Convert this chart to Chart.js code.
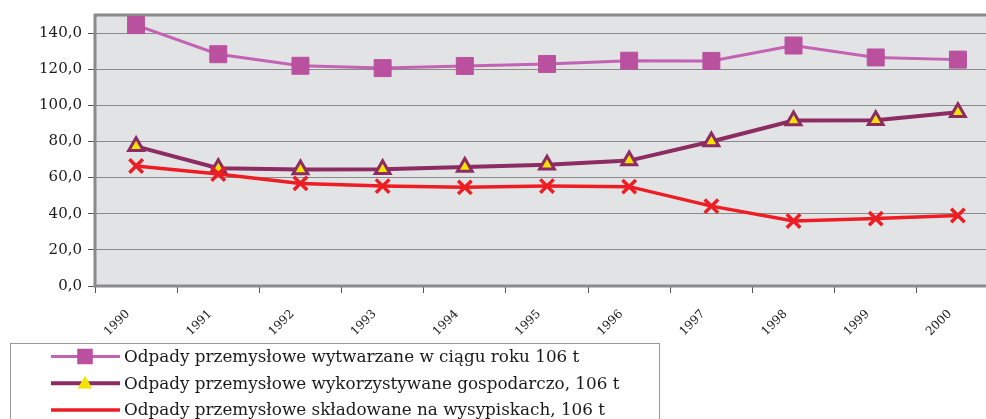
<!DOCTYPE html>
<html>
<head>
<meta charset="utf-8">
<script src="https://cdn.jsdelivr.net/npm/chart.js@4.4.1/dist/chart.umd.min.js"></script>
<style>
html, body { margin: 0; padding: 0; overflow: hidden; background: #fff; }
#wykres { display: block; width: 1000px; height: 419px; }
</style>
</head>
<body>
<canvas id="wykres" width="1000" height="419"></canvas>
<script>
// lata i wartosci
var lata = ['1990', '1991', '1992', '1993', '1994', '1995', '1996', '1997', '1998', '1999', '2000'];
var wytwarzane = [144.4, 128.3, 121.9, 120.6, 121.8, 122.9, 124.7, 124.6, 133.1, 126.5, 125.3];
var wykorzystywane = [77.3, 65.2, 64.5, 64.6, 65.9, 67.1, 69.4, 80.0, 91.6, 91.8, 96.2];
var skladowane = [66.4, 62.0, 56.8, 55.3, 54.6, 55.3, 55.0, 44.2, 36.0, 37.3, 39.0];
var nazwy = [
    'Odpady przemysłowe wytwarzane w ciągu roku 106 t',
    'Odpady przemysłowe wykorzystywane gospodarczo, 106 t',
    'Odpady przemysłowe składowane na wysypiskach, 106 t'
];

var szary = '#8a8a8a';

// tlo i ramka obszaru wykresu
var ramka = {
    id: 'ramka',
    beforeDraw: function (chart) {
        var a = chart.chartArea, ctx = chart.ctx;
        ctx.save();
        ctx.fillStyle = '#e1e3e5';
        ctx.fillRect(a.left, a.top, a.right - a.left, a.bottom - a.top);
        ctx.restore();
    },
    beforeDatasetsDraw: function (chart) {
        var a = chart.chartArea, ctx = chart.ctx;
        ctx.save();
        ctx.strokeStyle = szary;
        ctx.lineWidth = 3;
        ctx.strokeRect(a.left, a.top, a.right - a.left, a.bottom - a.top);
        ctx.restore();
    }
};

// legenda w ramce pod wykresem
var legenda = {
    id: 'legenda',
    afterDraw: function (chart) {
        var ctx = chart.ctx;
        ctx.save();
        ctx.strokeStyle = '#999';
        ctx.lineWidth = 1;
        ctx.strokeRect(10.5, 343.5, 649, 120);
        chart.data.datasets.forEach(function (ds, i) {
            var y = 356.5 + i * 26.7;
            ctx.strokeStyle = ds.borderColor;
            ctx.lineWidth = ds.borderWidth;
            ctx.beginPath();
            ctx.moveTo(51, y);
            ctx.lineTo(120, y);
            ctx.stroke();
            ctx.fillStyle = ds.pointBackgroundColor;
            ctx.strokeStyle = ds.pointBorderColor;
            ctx.lineWidth = ds.pointBorderWidth;
            Chart.helpers.drawPoint(ctx, {
                pointStyle: ds.pointStyle,
                radius: ds.pointStyle === 'rect' ? 11 : ds.pointRadius,
                rotation: 0
            }, 85, ds.pointStyle === 'triangle' ? y + 1 : y);
            ctx.fillStyle = '#1a1a1a';
            ctx.font = '16.8px "DejaVu Serif"';
            ctx.textBaseline = 'middle';
            ctx.fillText(ds.label, 124, y + 1);
        });
        ctx.restore();
    }
};

new Chart(document.getElementById('wykres'), {
    type: 'line',
    data: {
        labels: lata,
        datasets: [{
            label: nazwy[0],
            data: wytwarzane,
            borderColor: '#c462b4',
            borderWidth: 3,
            pointStyle: 'rect',
            pointRadius: 12,
            pointBackgroundColor: '#b9519f',
            pointBorderColor: '#b9519f',
            pointBorderWidth: 1,
            order: 2
        }, {
            label: nazwy[1],
            data: wykorzystywane,
            borderColor: '#8c2c62',
            borderWidth: 4,
            pointStyle: 'triangle',
            pointRadius: 8.5,
            pointBackgroundColor: '#f2e400',
            pointBorderColor: '#8c2c62',
            pointBorderWidth: 3,
            order: 1
        }, {
            label: nazwy[2],
            data: skladowane,
            borderColor: '#ee1d24',
            borderWidth: 3.5,
            pointStyle: 'crossRot',
            pointRadius: 9.5,
            pointBackgroundColor: '#ee1d24',
            pointBorderColor: '#ee1d24',
            pointBorderWidth: 3.5,
            order: 0
        }]
    },
    options: {
        responsive: false,
        animation: false,
        layout: {
            autoPadding: false,
            padding: { top: 15, right: 1, left: 0, bottom: 0 }
        },
        plugins: {
            legend: { display: false },
            tooltip: { enabled: false }
        },
        elements: { line: { tension: 0 } },
        scales: {
            x: {
                offset: true,
                grid: {
                    offset: true,
                    drawOnChartArea: false,
                    color: '#555',
                    tickLength: 7
                },
                border: { display: false },
                ticks: {
                    minRotation: 45,
                    maxRotation: 45,
                    padding: 6,
                    color: '#1a1a1a',
                    font: { family: 'DejaVu Serif', size: 12 },
                    // odstep na koncu przesuwa etykiete w lewo i w dol
                    callback: function (v) { return this.getLabelForValue(v) + '   '; }
                },
                afterFit: function (s) {
                    s.height = 133;
                    s.paddingLeft = 0;
                    s.paddingRight = 0;
                }
            },
            y: {
                min: 0,
                max: 150,
                ticks: {
                    stepSize: 20,
                    includeBounds: false,
                    padding: 6,
                    color: '#1a1a1a',
                    font: { family: 'DejaVu Serif', size: 15 },
                    callback: function (v) { return v.toFixed(1).replace('.', ','); }
                },
                grid: {
                    color: szary,
                    tickColor: '#555',
                    tickLength: 7
                },
                border: { display: false },
                afterFit: function (s) {
                    s.width = 95;
                    s.paddingTop = 0;
                    s.paddingBottom = 0;
                }
            }
        }
    },
    plugins: [ramka, legenda]
});
</script>
</body>
</html>
